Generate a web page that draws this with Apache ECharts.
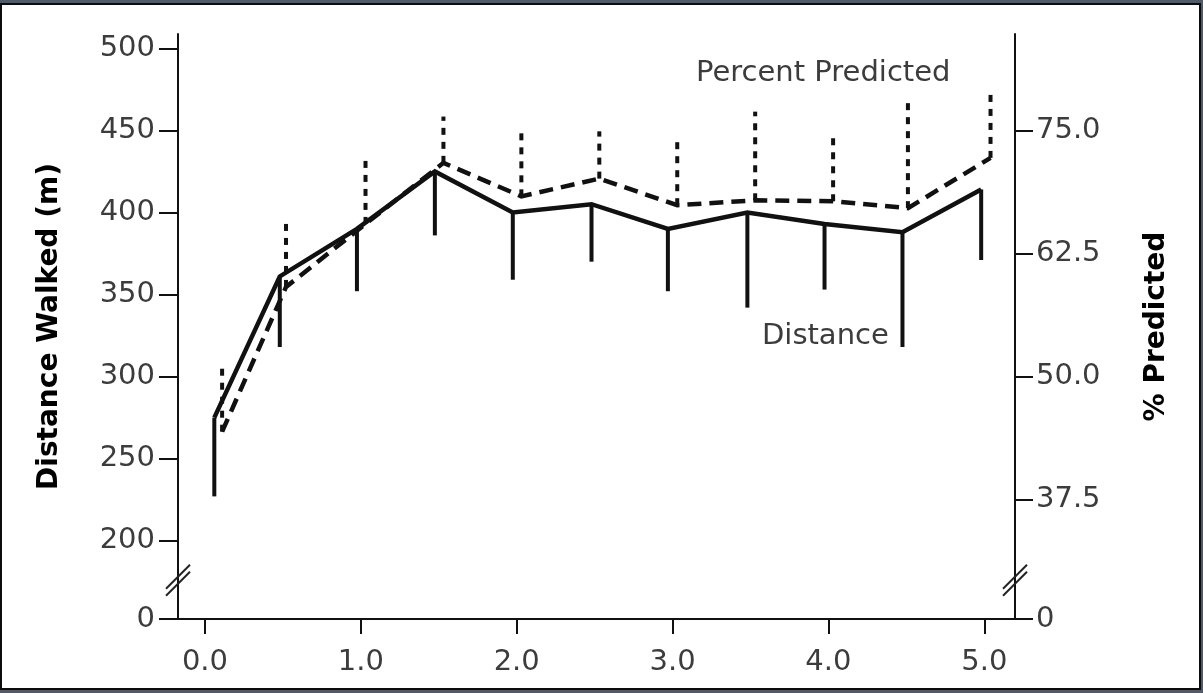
<!DOCTYPE html>
<html>
<head>
<meta charset="utf-8">
<script src="https://cdn.jsdelivr.net/npm/echarts@6/dist/echarts.min.js"></script>
<style>
html,body{margin:0;padding:0;background:#505b67;}
#c{width:1203px;height:693px;}
</style>
</head>
<body>
<div id="c"></div>
<script>
// ---- data ----
// time values (x) for each series as plotted (slightly dodged)
var distTime = [0.06, 0.48, 0.975, 1.475, 1.975, 2.48, 2.97, 3.48, 3.975, 4.475, 4.98];
var distMean = [275, 361, 390, 425, 400, 405, 390, 400, 393, 388, 414];
var distSD   = [48, 43, 38, 39, 41, 35, 38, 58, 40, 70, 43];

var pctTime  = [0.11, 0.52, 1.03, 1.53, 2.03, 2.53, 3.03, 3.53, 4.03, 4.51, 5.04];
var pctMean  = [44.4, 59.1, 65.5, 71.7, 68.3, 70.1, 67.4, 67.9, 67.8, 67.1, 72.2];
var pctSD    = [6.7, 6.6, 6.7, 4.7, 6.4, 4.8, 6.8, 9.0, 6.4, 11.0, 6.6];

var xTicks   = [0, 1, 2, 3, 4, 5];
var leftTicks  = [200, 250, 300, 350, 400, 450, 500];
var rightTicks = [37.5, 50, 62.5, 75];

var leftMin = 152.3, leftMax = 508.7;       // broken axis: bottom labelled 0
var ratio = 6;                               // metres per percent point
var rightMin = leftMin / ratio, rightMax = leftMax / ratio;

var FONT = '"DejaVu Sans", sans-serif';
var TXT = '#3c3c3c';
var INK = '#111111';

function pairs(xs, ys) { return xs.map(function (x, i) { return [x, ys[i]]; }); }
function triples(xs, ys, es) { return xs.map(function (x, i) { return [x, ys[i], es[i]]; }); }

var chart = echarts.init(document.getElementById('c'), null, {renderer: 'canvas'});

var option = {
  backgroundColor: '#505b67',
  animation: false,
  graphic: [{
    type: 'rect', z: -10, silent: true,
    shape: {x: 1, y: 4, width: 1199, height: 685},
    style: {fill: '#ffffff', stroke: '#0d0d0d', lineWidth: 2}
  }],
  grid: {left: 178, top: 34, width: 837, height: 585, containLabel: false},
  xAxis: {
    type: 'value', min: -0.173, max: 5.197,
    axisLine: {onZero: false, lineStyle: {color: INK, width: 2}},
    axisTick: {show: true, customValues: xTicks, length: 15, lineStyle: {color: INK, width: 2}},
    axisLabel: {customValues: xTicks, margin: 29, color: TXT, fontFamily: FONT, fontSize: 29,
      formatter: function (v) { return Number(v).toFixed(1); }},
    splitLine: {show: false}
  },
  yAxis: [{
    type: 'value', position: 'left', min: leftMin, max: leftMax,
    name: 'Distance Walked (m)', nameLocation: 'middle', nameRotate: 90, nameGap: 114,
    nameTextStyle: {color: '#000', fontFamily: FONT, fontSize: 28, fontWeight: 'bold'},
    axisLine: {show: true, onZero: false, lineStyle: {color: INK, width: 2}},
    axisTick: {show: true, customValues: [leftMin].concat(leftTicks), length: 19, lineStyle: {color: INK, width: 2}},
    axisLabel: {customValues: [leftMin].concat(leftTicks), margin: 23, color: TXT, fontFamily: FONT, fontSize: 29,
      formatter: function (v) { return v < leftTicks[0] - 1 ? '0' : String(Math.round(v)); }},
    splitLine: {show: false}
  }, {
    type: 'value', position: 'right', min: rightMin, max: rightMax,
    name: '% Predicted', nameLocation: 'middle', nameRotate: 90, nameGap: 128,
    nameTextStyle: {color: '#000', fontFamily: FONT, fontSize: 28, fontWeight: 'bold'},
    axisLine: {show: true, onZero: false, lineStyle: {color: INK, width: 2}},
    axisTick: {show: true, customValues: [rightMin].concat(rightTicks), length: 18, lineStyle: {color: INK, width: 2}},
    axisLabel: {customValues: [rightMin].concat(rightTicks), margin: 21, color: TXT, fontFamily: FONT, fontSize: 29,
      formatter: function (v) { return v < rightTicks[0] - 1 ? '0' : Number(v).toFixed(1); }},
    splitLine: {show: false}
  }],
  series: [{
    name: 'Distance', type: 'line', xAxisIndex: 0, yAxisIndex: 0,
    data: pairs(distTime, distMean), symbol: 'none', z: 5,
    lineStyle: {color: INK, width: 4.5, join: 'miter'}
  }, {
    name: 'Distance SD', type: 'custom', xAxisIndex: 0, yAxisIndex: 0,
    data: triples(distTime, distMean, distSD), z: 5,
    encode: {x: 0, y: 1},
    renderItem: function (params, api) {
      var p0 = api.coord([api.value(0), api.value(1)]);
      var p1 = api.coord([api.value(0), api.value(1) - api.value(2)]);
      return {type: 'line', shape: {x1: p0[0], y1: p0[1], x2: p1[0], y2: p1[1]},
        style: {stroke: INK, lineWidth: 4}};
    }
  }, {
    name: 'Percent Predicted', type: 'line', xAxisIndex: 0, yAxisIndex: 1,
    data: pairs(pctTime, pctMean), symbol: 'none', z: 4,
    lineStyle: {color: INK, width: 4.5, type: [14, 8], join: 'miter'}
  }, {
    name: 'Percent SD', type: 'custom', xAxisIndex: 0, yAxisIndex: 1,
    data: triples(pctTime, pctMean, pctSD), z: 4,
    encode: {x: 0, y: 1},
    renderItem: function (params, api) {
      var p0 = api.coord([api.value(0), api.value(1)]);
      var p1 = api.coord([api.value(0), api.value(1) + api.value(2)]);
      return {type: 'line', shape: {x1: p0[0], y1: p0[1], x2: p1[0], y2: p1[1]},
        style: {stroke: INK, lineWidth: 4, lineDash: [7, 7]}};
    }
  }]
};
chart.setOption(option);

// series labels and axis break marks, placed via the chart's own scales
var gx0 = chart.convertToPixel({xAxisIndex: 0}, -0.173);
var gx1 = chart.convertToPixel({xAxisIndex: 0}, 5.197);
var yb = chart.convertToPixel({yAxisIndex: 0}, 178);
function brk(x) {
  return [0, 7].map(function (d) {
    return {type: 'line', silent: true, z: 10,
      shape: {x1: x - 12, y1: yb + d + 12, x2: x + 12, y2: yb + d - 12},
      style: {stroke: '#222', lineWidth: 2}};
  });
}
var labels = [
  {type: 'text', silent: true, z: 10, x: 696, y: 73,
   style: {text: 'Percent Predicted', fill: TXT, font: '29px ' + FONT, verticalAlign: 'middle', align: 'left'}},
  {type: 'text', silent: true, z: 10, x: 762, y: 336,
   style: {text: 'Distance', fill: TXT, font: '29px ' + FONT, verticalAlign: 'middle', align: 'left'}}
];
chart.setOption({graphic: option.graphic.concat(brk(gx0), brk(gx1), labels)});
</script>
</body>
</html>
